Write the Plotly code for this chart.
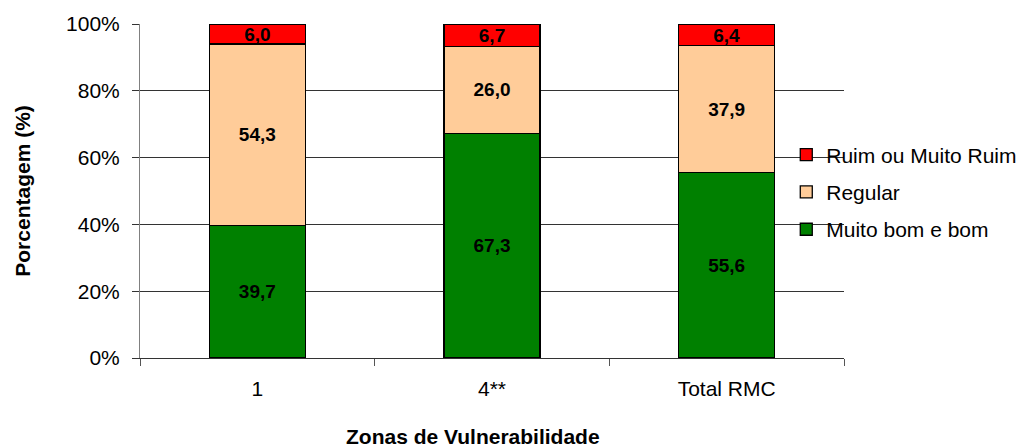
import plotly.graph_objects as go

zonas = ["1", "4**", "Total RMC"]
muito_bom = [39.7, 67.3, 55.6]
regular = [54.3, 26.0, 37.9]
ruim = [6.0, 6.7, 6.4]

SERIES = [
    ("Muito bom e bom", muito_bom, "#008000"),
    ("Regular", regular, "#FFCC99"),
    ("Ruim ou Muito Ruim", ruim, "#FF0000"),
]

FONT = "Liberation Sans, Arial, sans-serif"

fig = go.Figure()
for i, (name, values, color) in enumerate(SERIES):
    fig.add_trace(
        go.Bar(
            x=zonas,
            y=values,
            name=name,
            legendgroup=name,
            legendrank=1000 - i,  # top segment listed first
            marker=dict(color=color, line=dict(color="#000000", width=1.3)),
            texttemplate="%{y:.1f}",
            textposition="inside",
            insidetextanchor="middle",
            textangle=0,
            constraintext="none",
            textfont=dict(family=FONT, size=19, color="#000000", weight="bold"),
            cliponaxis=False,
        )
    )

# the page adds an 8px body margin, so margins are 8px short on left/top
fig.update_layout(
    barmode="stack",
    bargap=0.59,
    separators=",.",
    width=1032,
    height=447,
    paper_bgcolor="white",
    plot_bgcolor="white",
    font=dict(family=FONT, size=21, color="#000000"),
    margin=dict(l=132, r=196, t=16, b=97),
    showlegend=True,
    legend=dict(
        x=0.918,
        y=0.497,
        xanchor="left",
        yanchor="middle",
        traceorder="grouped",
        tracegroupgap=7,
        bgcolor="rgba(255,255,255,0)",
        font=dict(family=FONT, size=21, color="#000000"),
        itemwidth=30,
    ),
    annotations=[
        dict(
            text="<b>Porcentagem (%)</b>",
            textangle=-90,
            xref="paper",
            yref="paper",
            x=-0.168,
            y=0.5,
            xanchor="center",
            yanchor="middle",
            showarrow=False,
            font=dict(family=FONT, size=21),
        ),
        dict(
            text="<b>Zonas de Vulnerabilidade</b>",
            xref="paper",
            yref="paper",
            x=0.473,
            y=-0.236,
            xanchor="center",
            yanchor="middle",
            showarrow=False,
            font=dict(family=FONT, size=21),
        ),
    ],
)

fig.update_yaxes(
    range=[0, 100],
    dtick=20,
    ticksuffix="%",
    automargin=False,
    showgrid=True,
    gridcolor="#333333",
    gridwidth=1,
    showline=True,
    linecolor="#808080",
    linewidth=1,
    ticks="outside",
    ticklen=7,
    tickcolor="#333333",
    ticklabelstandoff=8,
    zeroline=False,
    tickfont=dict(size=21),
)
fig.update_xaxes(
    type="category",
    automargin=False,
    showline=True,
    linecolor="#333333",
    linewidth=1,
    ticks="outside",
    tickson="boundaries",
    ticklen=7,
    tickcolor="#555555",
    ticklabelstandoff=12,
    tickfont=dict(size=21),
)

fig.write_html("out.html")
